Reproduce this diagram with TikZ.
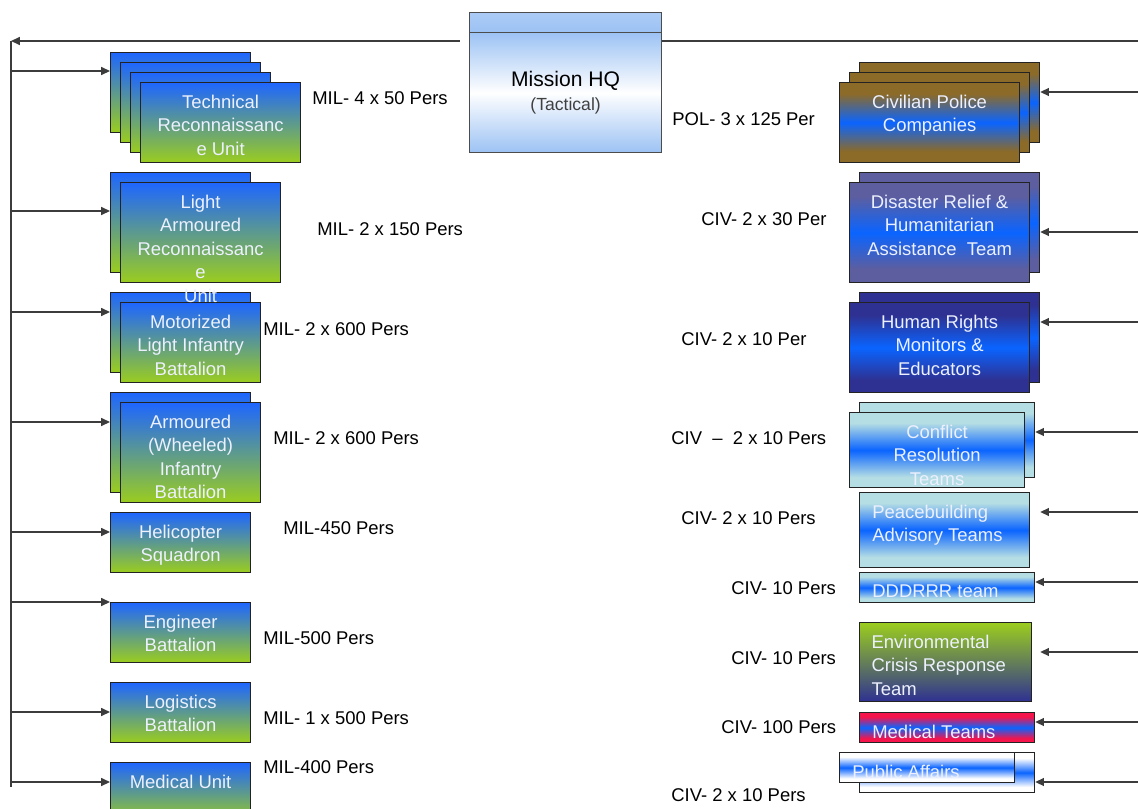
\documentclass[tikz,border=0pt]{standalone}
\usepackage{fontspec}
\setmainfont{Liberation Sans}
\usepackage{xcolor}
\usetikzlibrary{arrows.meta, positioning}

\definecolor{milblue}{RGB}{30,102,255}
\definecolor{milgreen}{RGB}{155,205,30}
\definecolor{midblue}{RGB}{10,100,255}
\definecolor{polbrown}{RGB}{140,106,40}
\definecolor{drslate}{RGB}{92,94,160}
\definecolor{hrnavy}{RGB}{46,49,146}
\definecolor{crcyan}{RGB}{180,221,228}
\definecolor{mtred}{RGB}{245,20,75}
\definecolor{hqblue}{RGB}{156,194,244}
\definecolor{boxwhite}{RGB}{236,240,255}
\definecolor{edge}{RGB}{35,35,35}
\definecolor{linegrey}{RGB}{60,60,60}
\colorlet{bandedge}{white}

% edge colour -> blue band -> edge colour (box fills 25bp..75bp)
\pgfdeclareverticalshading[bandedge,midblue]{band}{100bp}{color(0bp)=(bandedge); color(32bp)=(bandedge); color(50bp)=(midblue); color(68bp)=(bandedge); color(100bp)=(bandedge)}

\begin{document}
\begin{tikzpicture}[x=0.02cm, y=-0.02cm]
	\tikzset{
		unit/.style={draw=edge, line width=0.7pt, anchor=north west, inner sep=0pt, minimum width=2.8cm, minimum height=1.6cm},
		milbox/.style={unit, top color=milblue, bottom color=milgreen},
		civbox/.style={unit, /utils/exec={\colorlet{bandedge}{#1}}, shade, shading=band},
		boxtxt/.style={text=boxwhite, font=\fontsize{10.5}{13.4}\selectfont, align=center, inner sep=0pt},
		strength/.style={anchor=west, inner sep=0pt, font=\fontsize{10.5}{12}\selectfont},
		link/.style={draw=linegrey, line width=0.75pt},
		arr/.style={link, -{Triangle[length=5pt, width=4.5pt]}}
	}
	\useasboundingbox (0,0) rectangle (1138,808);

	% mission hq
	\node[unit, draw=black!70, minimum width=3.84cm, minimum height=0.4cm, top color=hqblue!85, bottom color=hqblue] (hqtop) at (469,12) {};
	\node[unit, draw=black!70, minimum width=3.84cm, minimum height=2.4cm, top color=hqblue, bottom color=hqblue, middle color=white, align=center, font=\fontsize{12}{13.6}\selectfont] (hq) at (469,32) {Mission HQ\\{\fontsize{10}{12}\selectfont\color{black!75}(Tactical)}};

	\coordinate (spt) at (11,41);
	\coordinate (spb) at (11,787);
	\coordinate (tl) at (460,41);
	\coordinate (tr) at (1138,41);
	\draw[link] (spt) -- (spb);
	\draw[arr] (tl) -- (spt);
	\draw[link] (hq.east |- tr) -- (tr);

	% military units
	\node[milbox] (techa) at (110,52) {};
	\node[milbox] (techb) at (120,62) {};
	\node[milbox] (techc) at (130,72) {};
	\node[milbox, minimum width=3.2cm] (tech) at (140,82) {};
	\node[boxtxt, below=7pt of tech.north] (tech-t) {Technical\\Reconnaissanc\\e Unit};

	\node[milbox, minimum height=2cm] (lara) at (110,172) {};
	\node[milbox, minimum width=3.2cm, minimum height=2cm] (lar) at (120,182) {};

	\node[milbox] (mota) at (110,292) {};
	\node[milbox] (mot) at (120,302) {};
	\node[boxtxt, below=7pt of mot.north] (mot-t) {Motorized\\Light Infantry\\Battalion};
	\node[boxtxt, below=7pt of lar.north] (lar-t) {Light\\Armoured\\Reconnaissanc\\e\\Unit};

	\node[milbox, minimum height=2cm] (awia) at (110,392) {};
	\node[milbox, minimum height=2cm] (awi) at (120,402) {};
	\node[boxtxt, below=7pt of awi.north] (awi-t) {Armoured\\(Wheeled)\\Infantry\\Battalion};

	\node[milbox, minimum height=1.2cm] (heli) at (110,512) {};
	\node[boxtxt, below=7pt of heli.north] (heli-t) {Helicopter\\Squadron};
	\node[milbox, minimum height=1.2cm] (eng) at (110,602) {};
	\node[boxtxt, below=7pt of eng.north] (eng-t) {Engineer\\Battalion};
	\node[milbox, minimum height=1.2cm] (log) at (110,682) {};
	\node[boxtxt, below=7pt of log.north] (log-t) {Logistics\\Battalion};
	\node[milbox, minimum height=1.2cm] (med) at (110,762) {};
	\node[boxtxt, below=7pt of med.north] (med-t) {Medical Unit};

	\coordinate (s1) at (11,71);
	\coordinate (s2) at (11,211);
	\coordinate (s3) at (11,312);
	\coordinate (s4) at (11,422);
	\coordinate (s5) at (11,532);
	\coordinate (s6) at (11,602);
	\coordinate (s7) at (11,712);
	\coordinate (s8) at (11,782);
	\draw[arr] (s1) -- (s1 -| techa.west);
	\draw[arr] (s2) -- (s2 -| lara.west);
	\draw[arr] (s3) -- (s3 -| mota.west);
	\draw[arr] (s4) -- (s4 -| awia.west);
	\draw[arr] (s5) -- (s5 -| heli.west);
	\draw[arr] (s6) -- (s6 -| eng.west);
	\draw[arr] (s7) -- (s7 -| log.west);
	\draw[arr] (s8) -- (s8 -| med.west);

	\node[strength] (tech-n) at (312,98) {MIL- 4 x 50 Pers};
	\node[strength] (lar-n) at (317,229) {MIL- 2 x 150 Pers};
	\node[strength] (mot-n) at (263,329) {MIL- 2 x 600 Pers};
	\node[strength] (awi-n) at (273,438) {MIL- 2 x 600 Pers};
	\node[strength] (heli-n) at (283,528) {MIL-450 Pers};
	\node[strength] (eng-n) at (263,638) {MIL-500 Pers};
	\node[strength] (log-n) at (263,718) {MIL- 1 x 500 Pers};
	\node[strength] (med-n) at (263,767) {MIL-400 Pers};

	% civilian and police components
	\node[civbox=polbrown, minimum width=3.6cm] (pola) at (859,62) {};
	\node[civbox=polbrown, minimum width=3.6cm] (polb) at (849,72) {};
	\node[civbox=polbrown, minimum width=3.6cm] (pol) at (839,82) {};
	\node[boxtxt, below=7pt of pol.north] (pol-t) {Civilian Police\\Companies};

	\node[civbox=drslate, minimum width=3.6cm, minimum height=2cm] (dra) at (859,172) {};
	\node[civbox=drslate, minimum width=3.6cm, minimum height=2cm] (dr) at (849,182) {};
	\node[boxtxt, below=7pt of dr.north] (dr-t) {Disaster Relief \&\\Humanitarian\\Assistance~ Team};

	\node[civbox=hrnavy, minimum width=3.6cm, minimum height=1.8cm] (hra) at (859,292) {};
	\node[civbox=hrnavy, minimum width=3.6cm, minimum height=1.8cm] (hr) at (849,302) {};
	\node[boxtxt, below=7pt of hr.north] (hr-t) {Human Rights\\Monitors \&\\Educators};

	\node[civbox=crcyan, minimum width=3.5cm, minimum height=1.5cm] (cra) at (859,402) {};
	\node[civbox=crcyan, minimum width=3.5cm, minimum height=1.5cm] (cr) at (849,412) {};
	\node[boxtxt, below=7pt of cr.north] (cr-t) {Conflict\\Resolution\\Teams};

	\node[civbox=crcyan, minimum width=3.4cm, minimum height=1.5cm] (pb) at (859,492) {};
	\node[boxtxt, align=left, below right=7pt and 7.4pt of pb.north west] (pb-t) {Peacebuilding\\Advisory Teams};

	\node[civbox=crcyan, minimum width=3.5cm, minimum height=0.6cm] (dd) at (859,572) {};
	\node[boxtxt, align=left, below right=7pt and 7.4pt of dd.north west] (dd-t) {DDDRRR team};

	\node[unit, top color=milgreen, bottom color=hrnavy, minimum width=3.44cm, minimum height=1.58cm] (env) at (859,622) {};
	\node[boxtxt, align=left, below right=7pt and 7pt of env.north west] (env-t) {Environmental\\Crisis Response\\Team};

	\node[civbox=mtred, minimum width=3.5cm, minimum height=0.6cm] (mt) at (859,712) {};
	\node[boxtxt, align=left, below right=7pt and 7.4pt of mt.north west] (mt-t) {Medical Teams};

	\node[civbox=white, minimum width=3.5cm, minimum height=0.8cm] (paa) at (859,752) {};
	\node[civbox=white, minimum width=3.5cm, minimum height=0.6cm] (pa) at (839,752) {};
	\node[boxtxt, align=left, below right=7pt and 7.4pt of pa.north west] (pa-t) {Public Affairs};

	\coordinate (r1) at (1138,92);
	\coordinate (r2) at (1138,232);
	\coordinate (r3) at (1138,322);
	\coordinate (r4) at (1138,432);
	\coordinate (r5) at (1138,512);
	\coordinate (r6) at (1138,582);
	\coordinate (r7) at (1138,652);
	\coordinate (r8) at (1138,722);
	\coordinate (r9) at (1138,782);
	\draw[arr] (r1) -- (r1 -| pola.east);
	\draw[arr] (r2) -- (r2 -| dra.east);
	\draw[arr] (r3) -- (r3 -| hra.east);
	\draw[arr] (r4) -- (r4 -| cra.east);
	\draw[arr] (r5) -- (r5 -| pola.east);
	\draw[arr] (r6) -- (r6 -| dd.east);
	\draw[arr] (r7) -- (r7 -| pola.east);
	\draw[arr] (r8) -- (r8 -| mt.east);
	\draw[arr] (r9) -- (r9 -| paa.east);

	\node[strength] (pol-n) at (672,119) {POL- 3 x 125 Per};
	\node[strength] (dr-n) at (701,219) {CIV- 2 x 30 Per};
	\node[strength] (hr-n) at (681,339) {CIV- 2 x 10 Per};
	\node[strength] (cr-n) at (671,438) {CIV~ –~ 2 x 10 Pers};
	\node[strength] (pb-n) at (681,518) {CIV- 2 x 10 Pers};
	\node[strength] (dd-n) at (731,588) {CIV- 10 Pers};
	\node[strength] (env-n) at (731,658) {CIV- 10 Pers};
	\node[strength] (mt-n) at (721,727) {CIV- 100 Pers};
	\node[strength] (pa-n) at (671,795) {CIV- 2 x 10 Pers};
\end{tikzpicture}
\end{document}
